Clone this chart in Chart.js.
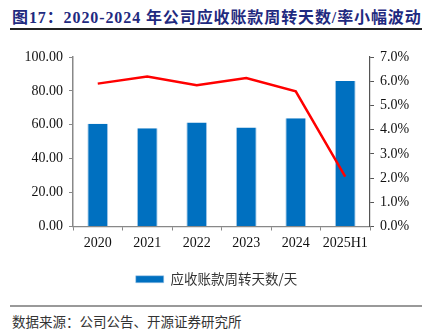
<!DOCTYPE html>
<html>
<head>
<meta charset="utf-8">
<script src="https://cdn.jsdelivr.net/npm/chart.js@4.4.0/dist/chart.umd.min.js"></script>
<style>
    html, body { margin: 0; padding: 0; background: #fff; }
    body { width: 433px; height: 332px; position: relative; overflow: hidden; }
    .title {
        position: absolute; left: 12px; top: 4px;
        font: bold 16px "Liberation Serif", "Noto Sans CJK SC", serif;
        color: #1f2a80; white-space: nowrap; letter-spacing: 0.9px;
    }
    .rule-top { position: absolute; left: 10px; top: 28px; width: 412px; height: 1.5px; background: #222; }
    .rule-bottom { position: absolute; left: 10px; top: 305px; width: 412px; height: 1.5px; background: #999; }
    .source {
        position: absolute; left: 12px; top: 311px;
        font: 13.5px "Noto Sans CJK SC", sans-serif; color: #333; white-space: nowrap;
    }
    .chart-box { position: absolute; left: 0; top: 32px; width: 433px; height: 270px; }
</style>
</head>
<body>
<div class="title">图17：2020-2024 年公司应收账款周转天数/率小幅波动</div>
<div class="rule-top"></div>
<div class="chart-box"><canvas id="chart"></canvas></div>
<div class="rule-bottom"></div>
<div class="source">数据来源：公司公告、开源证券研究所</div>

<script>
const categories = ['2020', '2021', '2022', '2023', '2024', '2025H1'];
const turnoverDays = [60.6, 58.0, 61.4, 58.4, 63.9, 85.9];
const turnoverRate = [5.90, 6.19, 5.83, 6.13, 5.58, 2.06];
const barLabel = '应收账款周转天数/天';
const lineLabel = '应收账款周转率';

const tickFont = { family: 'Liberation Serif', size: 14 };
const axisColor = '#888';

new Chart(document.getElementById('chart'), {
    data: {
        labels: categories,
        datasets: [
            {
                type: 'line',
                label: lineLabel,
                data: turnoverRate,
                yAxisID: 'yRight',
                borderColor: '#ff0000',
                borderWidth: 2.5,
                pointRadius: 0,
                tension: 0,
                order: 0
            },
            {
                type: 'bar',
                label: barLabel,
                data: turnoverDays,
                yAxisID: 'yLeft',
                backgroundColor: '#0070c0',
                borderColor: '#a9cbe8',
                borderWidth: { left: 1, right: 1, top: 0, bottom: 0 },
                barPercentage: 0.42,
                categoryPercentage: 1,
                order: 1
            }
        ]
    },
    options: {
        responsive: true,
        maintainAspectRatio: false,
        animation: false,
        layout: { padding: { top: 25, bottom: 6, left: 0, right: 0 } },
        plugins: {
            tooltip: { enabled: false },
            legend: {
                position: 'bottom',
                labels: {
                    filter: (item) => item.text === barLabel,
                    boxWidth: 28,
                    boxHeight: 7,
                    padding: 12,
                    color: '#333',
                    font: { family: 'Noto Sans CJK SC', size: 13.5 }
                }
            }
        },
        scales: {
            x: {
                grid: { display: true, drawOnChartArea: false, offset: true, tickLength: 4, color: axisColor },
                border: { color: axisColor, width: 1.2 },
                ticks: { color: '#111', font: tickFont, padding: 4, maxRotation: 0, minRotation: 0, autoSkip: false },
                afterFit: (scale) => { scale.height = 34; }
            },
            yLeft: {
                position: 'left',
                min: 0,
                max: 100,
                grid: { drawOnChartArea: false, tickLength: 4, color: axisColor },
                border: { color: axisColor, width: 1.5 },
                ticks: { stepSize: 20, color: '#111', font: tickFont, padding: 6, callback: (v) => v.toFixed(2) },
                afterFit: (scale) => { scale.width = 73; }
            },
            yRight: {
                position: 'right',
                min: 0,
                max: 7,
                grid: { drawOnChartArea: false, tickLength: 4, color: '#555' },
                border: { color: '#555', width: 1.2 },
                ticks: { stepSize: 1, color: '#111', font: tickFont, padding: 6, callback: (v) => v.toFixed(1) + '%' },
                afterFit: (scale) => { scale.width = 63; }
            }
        }
    }
});
</script>
</body>
</html>
